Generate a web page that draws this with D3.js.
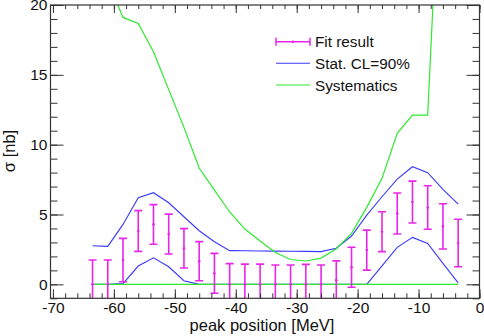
<!DOCTYPE html>
<html><head><meta charset="utf-8">
<script src="https://cdn.jsdelivr.net/npm/d3@7"></script>
<style>
html,body{margin:0;padding:0;background:#fff;}
svg{display:block;font-family:"Liberation Sans",Arial,sans-serif;}
</style></head>
<body>
<svg id="c" width="484" height="336"></svg>
<script>
const peakPos = [-63.5,-61,-58.5,-56,-53.5,-51,-48.5,-46,-43.5,-41,-38.5,-36,-33.5,-31,-28.5,-26,-23.5,-21,-18.5,-16,-13.5,-11,-8.5,-6,-3.5];
const fitValue = [0,0,1.74,3.82,4.29,3.60,2.58,1.66,0.79,0,0,0,0,0,0,0,0.3,1.22,2.45,3.77,5.07,5.89,5.5,4.15,2.96];
const fitError = [1.74,1.74,1.55,1.46,1.42,1.43,1.41,1.40,1.43,1.48,1.45,1.45,1.38,1.38,1.43,1.38,1.38,1.43,1.43,1.43,1.47,1.50,1.56,1.62,1.70];
const statUpper = [2.76,2.72,4.29,6.20,6.56,5.84,4.84,3.84,3.05,2.41,2.40,2.39,2.38,2.37,2.36,2.34,2.58,3.46,4.96,6.27,7.54,8.42,7.99,6.80,5.75];
const statLower = [0,0,0.05,1.31,1.90,1.26,0.26,0,0,0,0,0,0,0,0,0,0,0,0,1.32,2.65,3.36,2.93,1.5,0.1];
const systUpper = [28,21.75,19.11,18.68,16.65,13.94,11.24,8.33,6.75,5.18,3.96,3.10,2.28,1.78,1.67,1.88,2.55,3.65,5.51,7.59,10.81,12.12,12.12,35,45];
const systLower = [0,0,0,0,0,0,0,0,0,0,0,0,0,0,0,0,0,0,0,0,0,0,0,0,0];
const xMajorTicks = [-70,-60,-50,-40,-30,-20,-10,0];
const yMajorTicks = [0,5,10,15,20];
const legendLabels = ["Fit result","Stat. CL=90%","Systematics"];
const xTitle = "peak position [MeV]";
const yTitle = "σ [nb]";

const L=50.5, R=479.5, T=5, B=298.3;
const x = d3.scaleLinear().domain([-70.4,0]).range([L,R]);
const y = d3.scaleLinear().domain([-1,20]).range([B,T]);
const svg = d3.select("#c");
const txt = "#111";
const cMag = "#e826e8", cBlue = "#3838ff", cGreen = "#2ee82e";

svg.append("defs").append("clipPath").attr("id","clip")
  .append("rect").attr("x",L).attr("y",T).attr("width",R-L).attr("height",B-T);
const plot = svg.append("g").attr("clip-path","url(#clip)");

const line = d3.line().x((d,i)=>x(peakPos[i])).y(d=>y(d));
function drawLine(arr,color,w){
  plot.append("path").datum(arr).attr("d",line).attr("fill","none")
    .attr("stroke",color).attr("stroke-width",w).attr("stroke-linejoin","miter");
}
drawLine(statUpper,cBlue,1.1);
drawLine(statLower,cBlue,1.1);
drawLine(systUpper,cGreen,1.2);
drawLine(systLower,cGreen,1.3);

// error bars
const eb = plot.append("g").attr("stroke",cMag).attr("stroke-width",1.6);
peakPos.forEach((p,i)=>{
  const cx = x(p), y1 = y(fitValue[i]+fitError[i]), y0 = y(fitValue[i]-fitError[i]);
  eb.append("line").attr("x1",cx).attr("x2",cx).attr("y1",y1).attr("y2",y0);
  eb.append("line").attr("x1",cx-4).attr("x2",cx+4).attr("y1",y1).attr("y2",y1);
  eb.append("line").attr("x1",cx-4).attr("x2",cx+4).attr("y1",y0).attr("y2",y0);
  plot.append("circle").attr("cx",cx).attr("cy",y(fitValue[i])).attr("r",1.3).attr("fill",cMag);
});

// axes
function clean(g){ g.select(".domain").remove(); g.selectAll("line").attr("stroke","#333"); }
const xMinor = d3.range(-70,0.01,2);
const yMinor = d3.range(-1,20.01,1);
svg.append("g").attr("transform",`translate(0,${B})`)
  .call(d3.axisBottom(x).tickValues(xMinor).tickSize(-5).tickFormat("")).call(clean);
svg.append("g").attr("transform",`translate(0,${B})`)
  .call(d3.axisBottom(x).tickValues(xMajorTicks).tickSize(-9).tickPadding(4).tickFormat(d=>d<0?"-"+Math.abs(d):d))
  .call(clean)
  .call(g=>g.selectAll("text").attr("fill",txt).attr("font-size",15.5).attr("font-family","Liberation Sans, Arial, sans-serif"));
svg.append("g").attr("transform",`translate(0,${T})`)
  .call(d3.axisTop(x).tickValues(xMinor).tickSize(-4).tickFormat("")).call(clean);
svg.append("g").attr("transform",`translate(0,${T})`)
  .call(d3.axisTop(x).tickValues(xMajorTicks).tickSize(-8).tickFormat("")).call(clean);
svg.append("g").attr("transform",`translate(${L},0)`)
  .call(d3.axisLeft(y).tickValues(yMinor).tickSize(-7).tickFormat("")).call(clean);
svg.append("g").attr("transform",`translate(${L},0)`)
  .call(d3.axisLeft(y).tickValues(yMajorTicks).tickSize(-13).tickPadding(3))
  .call(clean)
  .call(g=>g.selectAll("text").attr("fill",txt).attr("font-size",15.5).attr("font-family","Liberation Sans, Arial, sans-serif"));
svg.append("g").attr("transform",`translate(${R},0)`)
  .call(d3.axisRight(y).tickValues(yMinor).tickSize(-7).tickFormat("")).call(clean);
svg.append("g").attr("transform",`translate(${R},0)`)
  .call(d3.axisRight(y).tickValues(yMajorTicks).tickSize(-13).tickFormat("")).call(clean);

svg.append("rect").attr("x",L).attr("y",T).attr("width",R-L).attr("height",B-T)
  .attr("fill","none").attr("stroke","#333").attr("stroke-width",1.2);

// titles
svg.append("text").attr("x",262).attr("y",331).attr("text-anchor","middle")
  .attr("font-size",16.5).attr("fill",txt).text(xTitle);
svg.append("text").attr("transform","translate(15,151) rotate(-90)").attr("text-anchor","middle")
  .attr("font-size",16.5).attr("fill",txt).text(yTitle);

// legend
const lg = svg.append("g");
const ly = [41.7,63.3,85];
const lx0 = 276, lx1 = 310;
legendLabels.forEach((lab,i)=>{
  lg.append("text").attr("x",315).attr("y",ly[i]).attr("dy","0.36em")
    .attr("font-size",15.3).attr("fill",txt).text(lab);
});
lg.append("line").attr("x1",lx0).attr("x2",lx1).attr("y1",ly[0]).attr("y2",ly[0]).attr("stroke",cMag).attr("stroke-width",1.5);
lg.append("line").attr("x1",lx0).attr("x2",lx0).attr("y1",ly[0]-4).attr("y2",ly[0]+4).attr("stroke",cMag).attr("stroke-width",1.5);
lg.append("line").attr("x1",lx1).attr("x2",lx1).attr("y1",ly[0]-4).attr("y2",ly[0]+4).attr("stroke",cMag).attr("stroke-width",1.5);
lg.append("circle").attr("cx",(lx0+lx1)/2).attr("cy",ly[0]).attr("r",1.3).attr("fill",cMag);
lg.append("line").attr("x1",lx0).attr("x2",lx1).attr("y1",ly[1]).attr("y2",ly[1]).attr("stroke",cBlue).attr("stroke-width",1.1);
lg.append("line").attr("x1",lx0).attr("x2",lx1).attr("y1",ly[2]).attr("y2",ly[2]).attr("stroke",cGreen).attr("stroke-width",1.2);
</script>
</body></html>
